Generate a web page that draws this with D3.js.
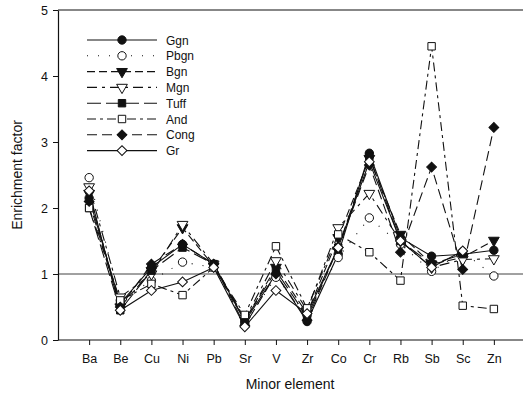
<!DOCTYPE html>
<html>
<head>
<meta charset="utf-8">
<script src="https://cdn.jsdelivr.net/npm/d3@7"></script>
<style>
  body { margin: 0; background: #fff; }
  svg { display: block; font-family: "Liberation Sans", Arial, sans-serif; }
</style>
</head>
<body>
<svg width="523" height="399"></svg>
<script>
const elements = ["Ba", "Be", "Cu", "Ni", "Pb", "Sr", "V", "Zr", "Co", "Cr", "Rb", "Sb", "Sc", "Zn"];
const yTicks = [0, 1, 2, 3, 4, 5];

const ggn  = [2.15, 0.55, 1.10, 1.45, 1.15, 0.28, 1.00, 0.28, 1.30, 2.83, 1.55, 1.27, 1.30, 1.36];
const pbgn = [2.46, 0.60, 0.90, 1.18, 1.10, 0.25, 0.95, 0.38, 1.25, 1.85, 1.45, 1.04, 1.34, 0.97];
const bgn  = [2.22, 0.50, 1.05, 1.70, 1.12, 0.30, 1.10, 0.40, 1.55, 2.75, 1.60, 1.15, 1.25, 1.51];
const mgn  = [2.32, 0.65, 1.00, 1.75, 1.15, 0.32, 1.20, 0.45, 1.70, 2.22, 1.50, 1.10, 1.22, 1.23];
const tuff = [2.00, 0.45, 1.05, 1.40, 1.15, 0.30, 1.05, 0.35, 1.40, 2.78, 1.50, 1.15, 1.30, null];
const and  = [2.00, 0.60, 0.85, 0.68, 1.10, 0.38, 1.42, 0.48, 1.60, 1.33, 0.90, 4.45, 0.52, 0.47];
const cong = [2.10, 0.50, 1.15, 1.45, 1.15, 0.22, 1.00, 0.30, 1.40, 2.65, 1.33, 2.62, 1.07, 3.22];
const gr   = [2.26, 0.45, 0.75, 0.88, 1.10, 0.20, 0.75, 0.40, 1.40, 2.70, 1.50, 1.10, 1.35, null];

const series = [
  { name: "Ggn",  values: ggn,  symbol: "circle",   fill: true,  dash: null },
  { name: "Pbgn", values: pbgn, symbol: "circle",   fill: false, dash: "1,10" },
  { name: "Bgn",  values: bgn,  symbol: "triangle", fill: true,  dash: "8,4" },
  { name: "Mgn",  values: mgn,  symbol: "triangle", fill: false, dash: "10,5,3,5" },
  { name: "Tuff", values: tuff, symbol: "square",   fill: true,  dash: "14,5" },
  { name: "And",  values: and,  symbol: "square",   fill: false, dash: "9,4,3,4" },
  { name: "Cong", values: cong, symbol: "diamond",  fill: true,  dash: "10,5" },
  { name: "Gr",   values: gr,   symbol: "diamond",  fill: false, dash: null }
];

const svg = d3.select("svg");
const padL = 58, padR = 525, padT = 10, padB = 340;

const x = d3.scaleLinear().domain([0, elements.length + 1]).range([padL, padR]);
const y = d3.scaleLinear().domain([0, 5]).range([padB, padT]);

// axes
const yAxis = svg.append("g")
  .attr("transform", `translate(${padL},0)`)
  .call(d3.axisLeft(y).tickValues(yTicks).tickFormat(d3.format("d"))
    .tickSize(5).tickSizeOuter(0).tickPadding(5));
const xAxis = svg.append("g")
  .attr("transform", `translate(0,${padB})`)
  .call(d3.axisBottom(x).tickValues(d3.range(1, elements.length + 1))
    .tickFormat(i => elements[i - 1]).tickSize(5).tickSizeOuter(0).tickPadding(9));

[yAxis, xAxis].forEach(g => {
  g.select(".domain").attr("stroke", "#111").attr("stroke-width", 1.2);
  g.selectAll(".tick line").attr("stroke", "#111");
  g.selectAll("text").attr("font-size", 12.5).attr("fill", "#111")
    .attr("font-family", "'Liberation Sans', Arial, sans-serif");
});
xAxis.select(".domain").attr("d", `M${padL},0H523`);

// top frame line
svg.append("line")
  .attr("x1", padL).attr("x2", 523).attr("y1", y(5)).attr("y2", y(5))
  .attr("stroke", "#111").attr("stroke-width", 1.2);

// reference line at 1
svg.append("line")
  .attr("x1", padL).attr("x2", 523).attr("y1", y(1)).attr("y2", y(1))
  .attr("stroke", "#111").attr("stroke-width", 0.8);

// axis titles
svg.append("text")
  .attr("x", 290).attr("y", 389)
  .attr("text-anchor", "middle").attr("font-size", 14).attr("fill", "#111")
  .text("Minor element");
svg.append("text")
  .attr("transform", `translate(22,175) rotate(-90)`)
  .attr("text-anchor", "middle").attr("font-size", 14).attr("fill", "#111")
  .text("Enrichment factor");

function symbolPath(kind) {
  if (kind === "circle") return d3.symbol(d3.symbolCircle, 55)();
  if (kind === "triangle") return d3.symbol(d3.symbolTriangle, 50)();
  if (kind === "square") return d3.symbol(d3.symbolSquare, 55)();
  return d3.symbol(d3.symbolSquare, 48)();
}
function symbolRotate(kind) {
  if (kind === "triangle") return " rotate(180)";
  if (kind === "diamond") return " rotate(45)";
  return "";
}

const line = d3.line()
  .defined(d => d.v != null)
  .x(d => x(d.i + 1))
  .y(d => y(d.v));

// lines
series.forEach(s => {
  const pts = s.values.map((v, i) => ({ i, v }));
  svg.append("path")
    .attr("d", line(pts))
    .attr("fill", "none")
    .attr("stroke", "#111")
    .attr("stroke-width", 1.1)
    .attr("stroke-dasharray", s.dash);
});

// markers
series.forEach(s => {
  svg.append("g")
    .selectAll("path")
    .data(s.values.map((v, i) => ({ i, v })).filter(d => d.v != null))
    .join("path")
    .attr("transform", d => `translate(${x(d.i + 1)},${y(d.v)})${symbolRotate(s.symbol)}`)
    .attr("d", symbolPath(s.symbol))
    .attr("fill", s.fill ? "#111" : "#fff")
    .attr("stroke", "#111")
    .attr("stroke-width", 1);
});

// legend
const legend = svg.append("g");
series.forEach((s, k) => {
  const ly = 40 + k * 15.8;
  legend.append("line")
    .attr("x1", 87).attr("x2", 157).attr("y1", ly).attr("y2", ly)
    .attr("stroke", "#111").attr("stroke-width", 1.1)
    .attr("stroke-dasharray", s.dash);
  legend.append("path")
    .attr("transform", `translate(122,${ly})${symbolRotate(s.symbol)}`)
    .attr("d", symbolPath(s.symbol))
    .attr("fill", s.fill ? "#111" : "#fff")
    .attr("stroke", "#111");
  legend.append("text")
    .attr("x", 166).attr("y", ly + 4.5)
    .attr("font-size", 12).attr("fill", "#111")
    .text(s.name);
});
</script>
</body>
</html>
